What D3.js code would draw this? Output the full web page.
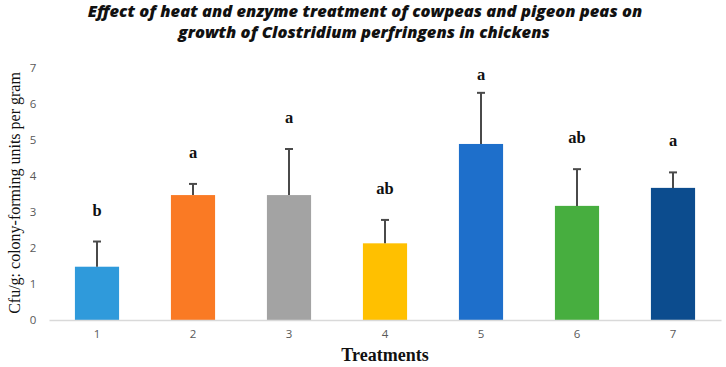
<!DOCTYPE html>
<html>
<head>
<meta charset="utf-8">
<script src="https://cdn.jsdelivr.net/npm/d3@7"></script>
<style>
body { margin: 0; background: #fff; }
</style>
</head>
<body>
<script>
(function(){

//chart data
var treatments = ["1", "2", "3", "4", "5", "6", "7"];
var means = [1.48, 3.47, 3.47, 2.13, 4.89, 3.17, 3.67];
var errors = [0.70, 0.31, 1.28, 0.65, 1.42, 1.02, 0.43];
var letters = ["b", "a", "a", "ab", "a", "ab", "a"];
var barColors = ["#2F9ADB", "#FA7A24", "#A3A3A3", "#FFC000", "#1E6FCB", "#47AE3F", "#0C4C8E"];
var yTicks = [0, 1, 2, 3, 4, 5, 6, 7];

window.onload = drawChart();

function drawChart(){
    var width = 726,
        height = 367;

    var svg = d3.select("body")
        .append("svg")
        .attr("width", width)
        .attr("height", height);

    var x = d3.scaleBand()
        .domain(treatments)
        .range([49, 721])
        .paddingInner(0.54)
        .paddingOuter(0.27);

    var y = d3.scaleLinear()
        .domain([0, 7])
        .range([320, 68]);

    //title
    var title = svg.append("text")
        .attr("text-anchor", "middle")
        .style("font-family", "'Open Sans', sans-serif")
        .style("font-weight", "800")
        .style("font-style", "italic")
        .style("font-size", "16.5px")
        .attr("fill", "#111");
    title.append("tspan").attr("x", 365).attr("y", 17)
        .text("Effect of heat and enzyme treatment of cowpeas and pigeon peas on");
    title.append("tspan").attr("x", 364).attr("y", 38)
        .text("growth of Clostridium perfringens in chickens");

    //y axis labels (no line)
    svg.selectAll(".ytick")
        .data(yTicks)
        .enter()
        .append("text")
        .attr("class", "ytick")
        .attr("x", 33)
        .attr("y", function(d){ return y(d) + 4; })
        .attr("text-anchor", "middle")
        .style("font-family", "'Open Sans', sans-serif")
        .style("font-size", "11.5px")
        .attr("fill", "#595959")
        .text(function(d){ return d; });

    //bars
    svg.selectAll(".bar")
        .data(means)
        .enter()
        .append("rect")
        .attr("class", "bar")
        .attr("x", function(d, i){ return x(treatments[i]); })
        .attr("width", x.bandwidth())
        .attr("y", function(d){ return y(d); })
        .attr("height", function(d){ return y(0) - y(d); })
        .attr("fill", function(d, i){ return barColors[i]; });

    //error bars
    var errG = svg.selectAll(".err")
        .data(means)
        .enter()
        .append("g")
        .attr("class", "err")
        .attr("stroke", "#4a4a4a")
        .attr("stroke-width", 2);
    errG.append("line")
        .attr("x1", function(d, i){ return x(treatments[i]) + x.bandwidth() / 2; })
        .attr("x2", function(d, i){ return x(treatments[i]) + x.bandwidth() / 2; })
        .attr("y1", function(d){ return y(d); })
        .attr("y2", function(d, i){ return y(d + errors[i]); });
    errG.append("line")
        .attr("x1", function(d, i){ return x(treatments[i]) + x.bandwidth() / 2 - 4; })
        .attr("x2", function(d, i){ return x(treatments[i]) + x.bandwidth() / 2 + 4; })
        .attr("y1", function(d, i){ return y(d + errors[i]); })
        .attr("y2", function(d, i){ return y(d + errors[i]); });

    //significance letters
    svg.selectAll(".letter")
        .data(means)
        .enter()
        .append("text")
        .attr("class", "letter")
        .attr("x", function(d, i){ return x(treatments[i]) + x.bandwidth() / 2; })
        .attr("y", function(d, i){ return Math.max(y(d + errors[i]) - 26, 80); })
        .attr("text-anchor", "middle")
        .style("font-family", "'Liberation Serif', serif")
        .style("font-weight", "bold")
        .style("font-size", "16.5px")
        .attr("fill", "#111")
        .text(function(d, i){ return letters[i]; });

    //x axis
    var xAxis = svg.append("g")
        .attr("transform", "translate(0," + y(0) + ")")
        .call(d3.axisBottom(x).tickSize(0).tickPadding(10));
    xAxis.select(".domain").attr("stroke", "#d9d9d9").attr("stroke-width", 1.5);
    xAxis.selectAll("text")
        .style("font-family", "'Open Sans', sans-serif")
        .style("font-size", "11.5px")
        .attr("fill", "#595959");

    //axis titles
    svg.append("text")
        .attr("x", 385)
        .attr("y", 361)
        .attr("text-anchor", "middle")
        .style("font-family", "'Liberation Serif', serif")
        .style("font-weight", "bold")
        .style("font-size", "18px")
        .attr("fill", "#111")
        .text("Treatments");

    svg.append("text")
        .attr("transform", "translate(20,193) rotate(-90)")
        .attr("text-anchor", "middle")
        .style("font-family", "'Liberation Serif', serif")
        .style("font-size", "16px")
        .attr("fill", "#111")
        .text("Cfu/g: colony-forming units per gram");
};

})();
</script>
</body>
</html>
